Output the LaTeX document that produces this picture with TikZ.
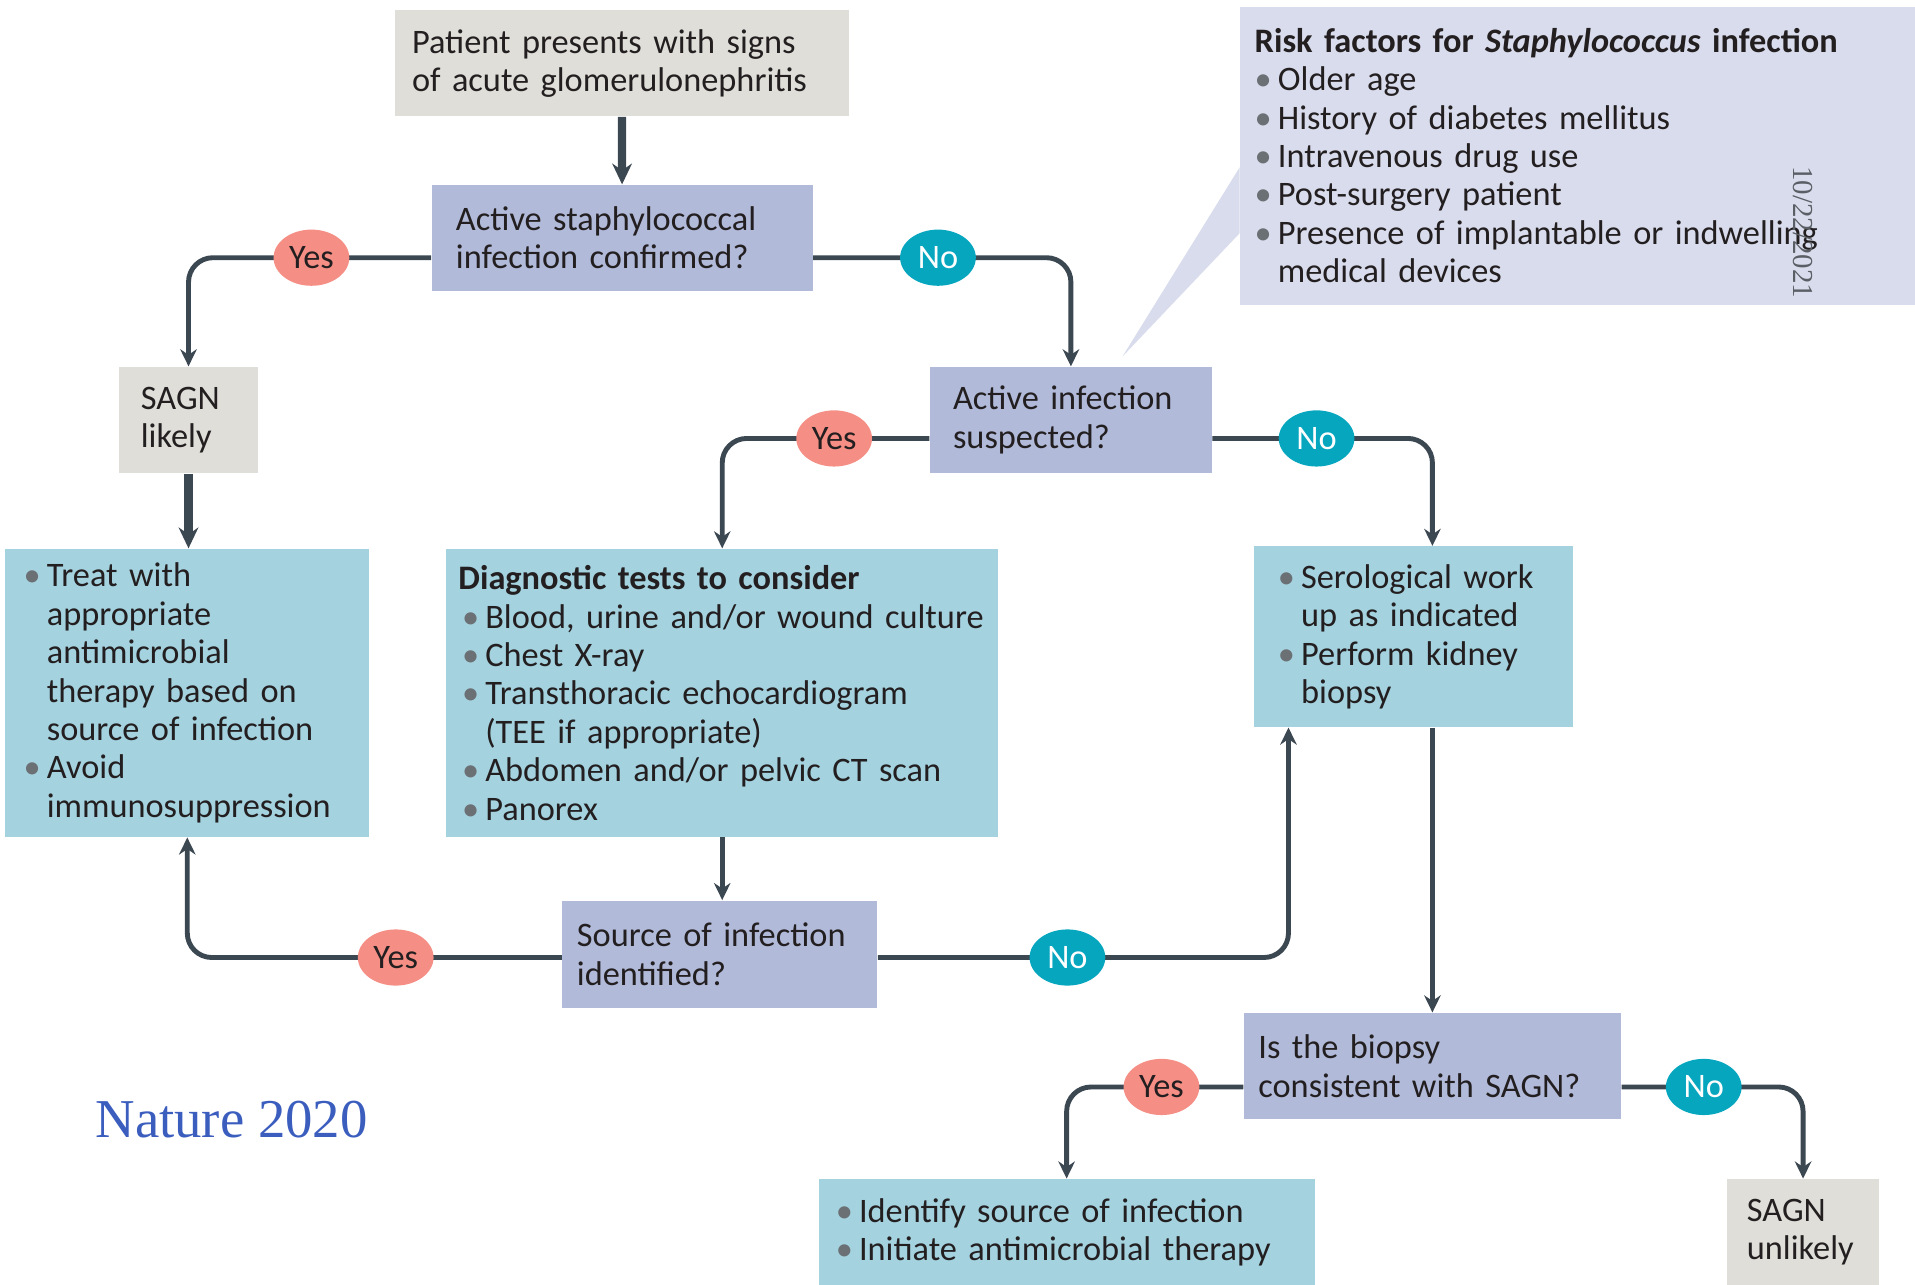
\documentclass[tikz,border=0pt]{standalone}
\usepackage{fontspec}
\setmainfont{Carlito}
\newfontfamily\serifnote{Liberation Serif}
\usetikzlibrary{arrows.meta,backgrounds,calc,positioning,shapes.geometric}
\definecolor{wire}{HTML}{3B4751}
\definecolor{greybox}{HTML}{DFDED9}
\definecolor{lavbox}{HTML}{B1BAD9}
\definecolor{riskbox}{HTML}{D9DCEC}
\definecolor{tealbox}{HTML}{A4D2DF}
\definecolor{yesfill}{HTML}{F58F86}
\definecolor{nofill}{HTML}{07A6BF}
\definecolor{bulgrey}{HTML}{6B7075}
\definecolor{txt}{HTML}{231F20}
\definecolor{natblue}{HTML}{3A5DBE}
\definecolor{stampgrey}{HTML}{5A5F66}
\newcommand{\bul}{\makebox[3.8mm][l]{\textcolor{bulgrey}{\textbullet}}}
\newcommand{\ind}{\hspace*{3.8mm}}
\tikzset{
    flow diagram/.style = {x=0.2mm, y=-0.2mm,
                           >={Stealth[length=2.8mm, width=2.7mm]},
                           font=\fontsize{16}{17.9}\selectfont, text=txt},
    line/.style         = {draw=wire, line width=0.8mm, rounded corners=4mm},
    heavy/.style        = {line, line width=1.35mm,
                           -{Stealth[length=3.4mm, width=3.2mm]}},
    block/.style        = {anchor=north west, inner xsep=2.4mm, inner ysep=0pt,
                           align=left, minimum height=17.4mm},
    greyblock/.style    = {block, fill=greybox},
    qblock/.style       = {block, fill=lavbox},
    listblock/.style    = {block, fill=tealbox},
    answer/.style       = {ellipse, inner sep=0pt,
                           minimum width=12.4mm, minimum height=9.2mm},
    yesdot/.style       = {answer, fill=yesfill},
    nodot/.style        = {answer, fill=nofill, text=white}
}

\begin{document}
\begin{tikzpicture}[flow diagram]
\useasboundingbox (0,0) rectangle (1568,1052);

% Question and outcome blocks
\node[greyblock, inner xsep=2.8mm, text width=68.8mm] (patient) at (323,8)
    {Patient presents with signs\\of acute glomerulonephritis};
\node[qblock, inner xsep=4mm, text width=54.4mm] (staph) at (353,151)
    {Active staphylococcal\\infection confirmed?};
\node[greyblock, inner xsep=3.6mm, text width=15.6mm] (likely) at (97,300)
    {SAGN\\likely};
\node[qblock, inner xsep=3.8mm, text width=38.6mm] (suspect) at (761,300)
    {Active infection\\suspected?};
\node[qblock, text width=46.8mm, minimum height=17.6mm] (source) at (460,737)
    {Source of infection\\identified?};
\node[qblock, text width=57mm] (biopsy) at (1018,829)
    {Is the biopsy\\consistent with SAGN?};
\node[greyblock, inner xsep=3.2mm, text width=18.4mm] (unlikely) at (1414,965)
    {SAGN\\unlikely};

% Lists
\node[block, fill=riskbox, text width=105.8mm, minimum height=48.8mm] (risk) at (1015,5)
    {\textbf{Risk factors for \textit{Staphylococcus} infection}\\
     \bul Older age\\
     \bul History of diabetes mellitus\\
     \bul Intravenous drug use\\
     \bul Post-surgery patient\\
     \bul Presence of implantable or indwelling\\
     \ind medical devices};
\node[listblock, inner xsep=3mm, text width=53.6mm, minimum height=47.2mm] (treat) at (4,449)
    {\bul Treat with\\
     \ind appropriate\\
     \ind antimicrobial\\
     \ind therapy based on\\
     \ind source of infection\\
     \bul Avoid\\
     \ind immunosuppression};
\node[listblock, inner xsep=2mm, text width=86.4mm, minimum height=47.2mm] (tests) at (365,449)
    {\textbf{Diagnostic tests to consider}\\
     \hspace*{0.6mm}\bul Blood, urine and/or wound culture\\
     \hspace*{0.6mm}\bul Chest X-ray\\
     \hspace*{0.6mm}\bul Transthoracic echocardiogram\\
     \hspace*{0.6mm}\ind (TEE if appropriate)\\
     \hspace*{0.6mm}\bul Abdomen and/or pelvic CT scan\\
     \hspace*{0.6mm}\bul Panorex};
\node[listblock, inner xsep=4mm, text width=44.4mm, minimum height=29.6mm] (serology) at (1026,447)
    {\bul Serological work\\
     \ind up as indicated\\
     \bul Perform kidney\\
     \ind biopsy};
\node[listblock, inner xsep=2.8mm, text width=75.6mm] (identify) at (670,965)
    {\bul Identify source of infection\\
     \bul Initiate antimicrobial therapy};

% Yes / No answers
\foreach \nm/\x/\y in {yesA/255/211, yesB/683/359, yesC/324/784, yesD/951/890}
    \node[yesdot] (\nm) at (\x,\y) {Yes};
\foreach \nm/\x/\y in {noA/768/211, noB/1078/359, noC/874/784, noD/1395/890}
    \node[nodot] (\nm) at (\x,\y) {No};

% Notes
\node[rotate=-90, text=stampgrey, font=\serifnote\fontsize{13.5}{15}\selectfont]
    (stamp) at (1476,190) {10/22/2021};
\node[anchor=west, text=natblue, font=\serifnote\fontsize{25.5}{30}\selectfont]
    (journal) at (72,917) {Nature 2020};

% Connectors
\begin{scope}[on background layer]
    \fill[riskbox] ($(risk.north west)+(0,132)$) -- (919,292)
        -- ($(risk.north west)+(0,186)$) -- cycle;
    \coordinate (serojoin) at ($(serology.south west)+(29,0)$);
    \draw[heavy] (patient) -- (staph);
    \draw[->, line] (staph.west |- yesA) -| (likely.north);
    \draw[->, line] (staph.east |- noA) -| (suspect.north);
    \draw[heavy] (likely.south) -- (likely.south |- treat.north);
    \draw[->, line] (suspect.west |- yesB) -| (tests.north);
    \draw[->, line] (suspect.east |- noB) -| (biopsy.north |- serology.north);
    \draw[->, line] (tests.south) -- (tests.south |- source.north);
    \draw[->, line] (source.west |- yesC) -| (treat.south);
    \draw[->, line] (source.east |- noC) -| (serojoin);
    \draw[->, line] (biopsy.north |- serology.south) -- (biopsy.north);
    \draw[->, line] (biopsy.west |- yesD) -| (identify.north);
    \draw[->, line] (biopsy.east |- noD) -| (unlikely.north);
\end{scope}

\end{tikzpicture}
\end{document}
